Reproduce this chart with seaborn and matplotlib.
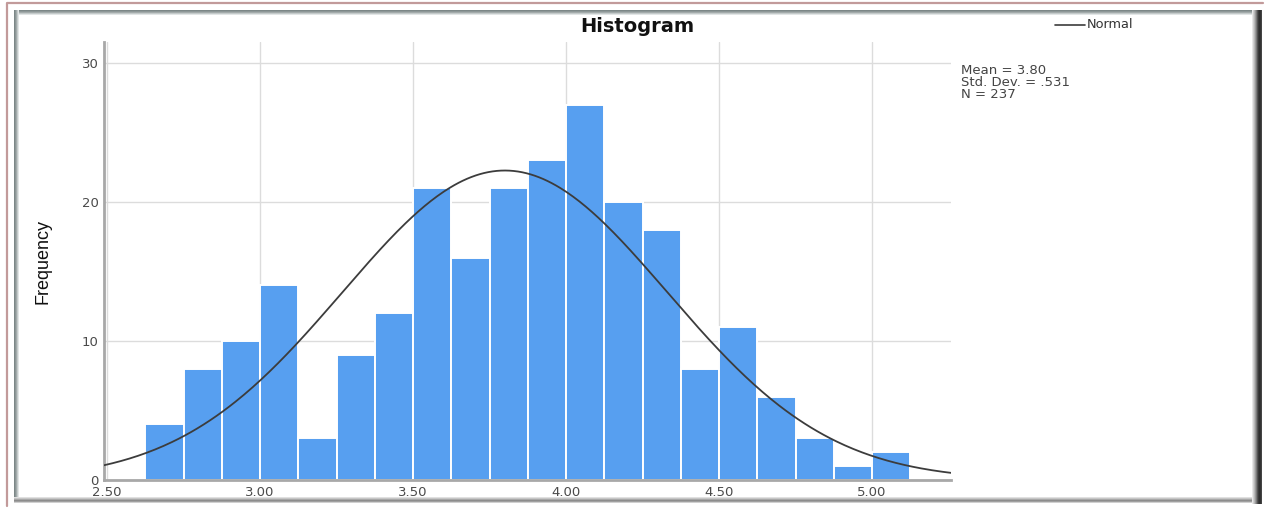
import numpy as np
import pandas as pd
import matplotlib
matplotlib.use("Agg")
import matplotlib.pyplot as plt
from matplotlib.patches import Rectangle
import seaborn as sns

# ---- data ----
bin_edges = [2.625, 2.75, 2.875, 3.0, 3.125, 3.25, 3.375, 3.5, 3.625, 3.75, 3.875,
             4.0, 4.125, 4.25, 4.375, 4.5, 4.625, 4.75, 4.875, 5.0, 5.125]
frequencies = [4, 8, 10, 14, 3, 9, 12, 21, 16, 21, 23, 27, 20, 18, 8, 11, 6, 3, 1, 2]
x_ticks = [2.5, 3.0, 3.5, 4.0, 4.5, 5.0]
x_tick_labels = ["2.50", "3.00", "3.50", "4.00", "4.50", "5.00"]
y_ticks = [0, 10, 20, 30]
stat_mean = 3.80
stat_sd = 0.531
stat_n = 237

edges_arr = np.array(bin_edges)
bin_centers = (edges_arr[:-1] + edges_arr[1:]) / 2
df = pd.DataFrame({"value": bin_centers, "freq": frequencies})

sns.set_style("white")
plt.rcParams["font.family"] = ["DejaVu Sans"]

W, H = 1268, 508
fig = plt.figure(figsize=(W / 100, H / 100), dpi=100)

# ---- frame (background axes in pixel coords) ----
bg = fig.add_axes([0, 0, 1, 1], zorder=-10)
bg.set_xlim(0, W)
bg.set_ylim(H, 0)
bg.axis("off")
bg.plot([7, 7, 1263], [506, 3, 3], color="#c29a9a", lw=1.6)
for i, c in enumerate(["#7c8787", "#8d9797", "#a3abab", "#c4caca", "#e2e6e6"]):
    bg.add_patch(Rectangle((14, 10 + i), 1240, 1, color=c, lw=0))
for i, c in enumerate(["#7c8787", "#8d9797", "#a3abab", "#c4caca", "#e2e6e6"]):
    bg.add_patch(Rectangle((14 + i, 10), 1, 490, color=c, lw=0))
for i, c in enumerate(["#e0e0e0", "#c6c6c6", "#a8a8a8", "#8c8c8c", "#a0a0a0", "#d0d0d0"]):
    bg.add_patch(Rectangle((14, 497 + i), 1248, 1, color=c, lw=0))
for i, c in enumerate(["#e8e8e8", "#d0d0d0", "#b8b8b8", "#9a9a9a", "#7a7a7a", "#555555",
                       "#3a3a3a", "#2e2e2e", "#333333", "#444444"]):
    bg.add_patch(Rectangle((1252 + i, 10), 1, 494, color=c, lw=0))

# ---- main axes ----
L, R, T, B = 104, 951, 42, 480
ax = fig.add_axes([L / W, (H - B) / H, (R - L) / W, (B - T) / H])

sns.histplot(data=df, x="value", weights="freq", bins=bin_edges, ax=ax,
             color="#579ff0", alpha=1.0, edgecolor="white", linewidth=1.4, zorder=2)

xs = np.linspace(2.49, 5.258, 400)
bw = bin_edges[1] - bin_edges[0]
ys = stat_n * bw / (stat_sd * np.sqrt(2 * np.pi)) * np.exp(-0.5 * ((xs - stat_mean) / stat_sd) ** 2)
sns.lineplot(x=xs, y=ys, ax=ax, color="#3c3c3c", linewidth=1.3, zorder=3)

ax.set_xlim(2.49, 5.258)
ax.set_ylim(0, 31.5)
ax.set_xticks(x_ticks)
ax.set_xticklabels(x_tick_labels)
ax.set_yticks(y_ticks)
ax.tick_params(axis="both", length=0, labelsize=9.5, colors="#4a4a4a", pad=4)
ax.grid(True, color="#dcdcdc", linewidth=1.0, zorder=0)
ax.set_axisbelow(True)
for s in ["top", "right"]:
    ax.spines[s].set_visible(False)
for s in ["left", "bottom"]:
    ax.spines[s].set_color("#a8a8a8")
    ax.spines[s].set_linewidth(2)
ax.set_xlabel("")
ax.set_ylabel("Frequency", fontsize=13, family=["Liberation Sans", "DejaVu Sans"],
              color="#111111", labelpad=22)

fig.text(637 / W, 1 - 27 / H, "Histogram", ha="center", va="center",
         fontsize=14, fontweight="bold", color="#111111")

bg.plot([1055, 1085], [25, 25], color="#3c3c3c", lw=1.2)
bg.text(1087, 25, "Normal", ha="left", va="center", fontsize=9.3, color="#333333")

for i, s in enumerate([f"Mean = {stat_mean:.2f}", f"Std. Dev. = {str(round(stat_sd, 3))[1:]}",
                       f"N = {stat_n}"]):
    bg.text(961, 71 + 12 * i, s, ha="left", va="center", fontsize=9.5, color="#444444")

fig.savefig("out.png", dpi=100)
